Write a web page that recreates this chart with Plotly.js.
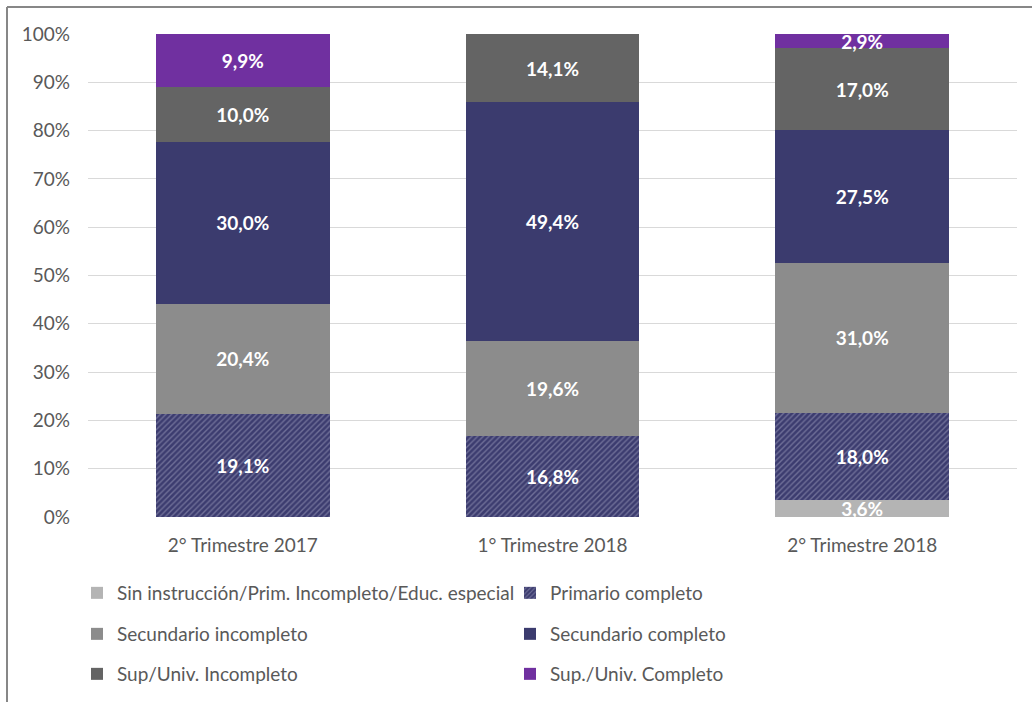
<!DOCTYPE html>
<html>
<head>
<meta charset="utf-8">
<script src="https://cdn.plot.ly/plotly-3.0.1.min.js"></script>
<style>html,body{margin:0;padding:0;background:#fff;}#chart{width:1032px;height:702px;}</style>
</head>
<body>
<div id="chart"></div>
<script>
const categories = ["2° Trimestre 2017", "1° Trimestre 2018", "2° Trimestre 2018"];
const seriesNames = [
  "Sin instrucción/Prim. Incompleto/Educ. especial",
  "Primario completo",
  "Secundario incompleto",
  "Secundario completo",
  "Sup/Univ. Incompleto",
  "Sup./Univ. Completo"
];
const sinInstruccion = [null, null, 3.6];
const primarioCompleto = [19.1, 16.8, 18.0];
const secundarioIncompleto = [20.4, 19.6, 31.0];
const secundarioCompleto = [30.0, 49.4, 27.5];
const supIncompleto = [10.0, 14.1, 17.0];
const supCompleto = [9.9, null, 2.9];
const yTickVals = [0, 10, 20, 30, 40, 50, 60, 70, 80, 90, 100];
const yTickText = ["0%", "10%", "20%", "30%", "40%", "50%", "60%", "70%", "80%", "90%", "100%"];

const colors = ["#b4b4b4", "#3c3c6f", "#8c8c8c", "#3b3b6e", "#646464", "#7030a0"];
const legendIds = ["legend", "legend", "legend2", "legend2", "legend3", "legend3"];
const allSeries = [sinInstruccion, primarioCompleto, secundarioIncompleto, secundarioCompleto, supIncompleto, supCompleto];
const FONT = "Lato, 'Open Sans', sans-serif";
const FS = 19;

const fmt = v => (v === null || v === undefined) ? "" : v.toFixed(1).replace(".", ",") + "%";

const traces = allSeries.map((vals, i) => {
  const t = {
    type: "bar",
    name: seriesNames[i],
    x: categories,
    y: vals,
    text: vals.map(fmt),
    textposition: "inside",
    insidetextanchor: "middle",
    constraintext: "none",
    textangle: 0,
    textfont: {family: FONT, size: FS, color: "#ffffff", weight: "bold"},
    marker: {color: colors[i], line: {width: 0}},
    legend: legendIds[i],
    hoverinfo: "skip"
  };
  if (i === 1) {
    t.marker.pattern = {shape: "/", fgcolor: "#a3a3c2", size: 4, solidity: 0.35, fillmode: "overlay"};
  }
  return t;
});

const plotL = 88, plotW = 929, plotT = 34, plotH = 483, W = 1032, H = 702;
const px2x = p => (p - plotL) / plotW;
const py2y = p => (plotT + plotH - p) / plotH;

const legendBase = {
  orientation: "h",
  entrywidth: 388,
  entrywidthmode: "pixels",
  x: px2x(77),
  xanchor: "left",
  yanchor: "middle",
  font: {family: FONT, size: FS, color: "#595959"},
  bgcolor: "rgba(0,0,0,0)",
  traceorder: "normal"
};

const layout = {
  width: W, height: H,
  margin: {l: plotL, r: W - plotL - plotW, t: plotT, b: H - plotT - plotH, pad: 0, autoexpand: false},
  paper_bgcolor: "#ffffff",
  plot_bgcolor: "#ffffff",
  barmode: "stack",
  barnorm: "percent",
  bargap: 0.44,
  font: {family: FONT, size: FS, color: "#595959"},
  xaxis: {
    type: "category",
    showgrid: false,
    showline: false,
    zeroline: false,
    ticks: "",
    automargin: false,
    ticklabelstandoff: 15,
    tickfont: {family: FONT, size: FS, color: "#595959"}
  },
  yaxis: {
    range: [0, 100],
    tickvals: yTickVals,
    ticktext: yTickText,
    showgrid: true,
    gridcolor: "#d9d9d9",
    gridwidth: 1,
    zeroline: false,
    showline: false,
    ticks: "",
    automargin: false,
    ticklabelstandoff: 17,
    tickfont: {family: FONT, size: FS, color: "#595959"}
  },
  showlegend: true,
  legend: Object.assign({}, legendBase, {y: py2y(593)}),
  legend2: Object.assign({}, legendBase, {y: py2y(634)}),
  legend3: Object.assign({}, legendBase, {y: py2y(674)}),
  shapes: [
    {type: "line", xref: "paper", yref: "paper", x0: px2x(7), x1: px2x(1032), y0: py2y(7), y1: py2y(7), line: {color: "#878787", width: 2}, layer: "above"},
    {type: "line", xref: "paper", yref: "paper", x0: px2x(7), x1: px2x(7), y0: py2y(7), y1: py2y(702), line: {color: "#878787", width: 2}, layer: "above"}
  ]
};

Plotly.newPlot("chart", traces, layout, {displayModeBar: false, staticPlot: true});
</script>
</body>
</html>
